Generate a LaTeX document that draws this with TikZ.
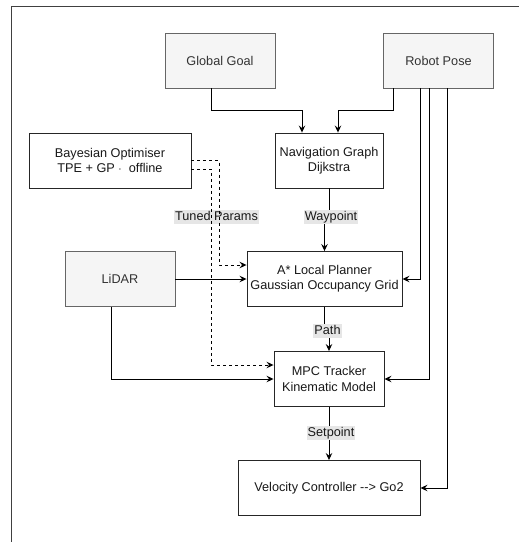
\documentclass[tikz,border=0pt]{standalone}
\usepackage{fontspec}
\setmainfont{Liberation Sans}
\usepackage{xcolor}
\usetikzlibrary{positioning,arrows.meta}

\definecolor{srcfill}{HTML}{F5F5F5}
\definecolor{srcline}{HTML}{666666}
\definecolor{srctext}{HTML}{333333}
\definecolor{lblfill}{HTML}{E6E6E6}

\begin{document}
\begin{tikzpicture}[x=1pt,y=-1pt,->,>={Stealth[length=7pt,width=6.5pt,inset=2.5pt]},line width=0.9pt,
  font=\fontsize{12.7}{15.2}\selectfont,
  block/.style={draw=black!85,fill=white,minimum height=55pt,inner sep=0pt,align=center,text=black!90},
  source/.style={block,draw=srcline,fill=srcfill,text=srctext},
  lbl/.style={fill=lblfill,inner xsep=1pt,inner ysep=0.5pt,text height=9.5pt,text depth=3pt,text=black!90}]

    \useasboundingbox (0,0) rectangle (519,542);
    \begin{scope}
    \clip (0,0) rectangle (519,542);
    \draw[-,black!75] (11,6) rectangle (560,580);
    \end{scope}

    % The sources
	\node [source,minimum width=110pt] at (220,60.5) (gg) {Global Goal};
	\node [source,minimum width=110pt] at (438.5,60.5) (rp) {Robot Pose};
	\node [source,minimum width=110pt] at (120,279) (li) {LiDAR};

    % The pipeline
	\node [block,minimum width=162pt] at (110,160.5) (bo) {Bayesian Optimiser\\TPE + GP $\cdot$\ \ offline};
	\node [block,minimum width=108pt] at (329,160.5) (ng) {Navigation Graph\\Dijkstra};
	\node [block,minimum width=155pt] at (324.5,279) (lp) {A* Local Planner\\Gaussian Occupancy Grid};
	\node [block,minimum width=110pt] at (329,379) (mpc) {MPC Tracker\\Kinematic Model};
	\node [block,minimum width=182pt] at (329,488) (vc) {Velocity Controller {-}{-}> Go2};

	% Tuned parameters
	\node [lbl] at (216.5,217) (tp) {Tuned Params};
	\draw[dashed] (bo.east) -- ++(28,0) |- ([yshift=14pt]lp.west);
	\draw[dashed] ([yshift=-8.5pt]bo.east) -- ++(20,0) |- ([yshift=14pt]mpc.west);

	% Graph edges
	\draw ([xshift=-9pt]gg.south) -- ++(0,22) -| ([xshift=-27pt]ng.north);
	\draw ([xshift=-45.5pt]rp.south) -- ++(0,22) -| ([xshift=9pt]ng.north);
	\draw ([xshift=-18.5pt]rp.south) |- (lp.east);
	\draw ([xshift=-9.5pt]rp.south) |- (mpc.east);
	\draw ([xshift=8.5pt]rp.south) |- (vc.east);
	\draw (li.east) -- (lp.west);
	\draw ([xshift=-9pt]li.south) |- (mpc.west);
	\draw (ng.south) -- ++(0,29) -| (lp.north);
	\draw (lp.south) -- ++(0,25) -| (mpc.north);
	\draw (mpc.south) -- (vc.north);

	% Edge labels
	\node [lbl] at (331,217) (wp) {Waypoint};
	\node [lbl] at (327.5,331) (pa) {Path};
	\node [lbl] at (331,433) (sp) {Setpoint};

\end{tikzpicture}
\end{document}
